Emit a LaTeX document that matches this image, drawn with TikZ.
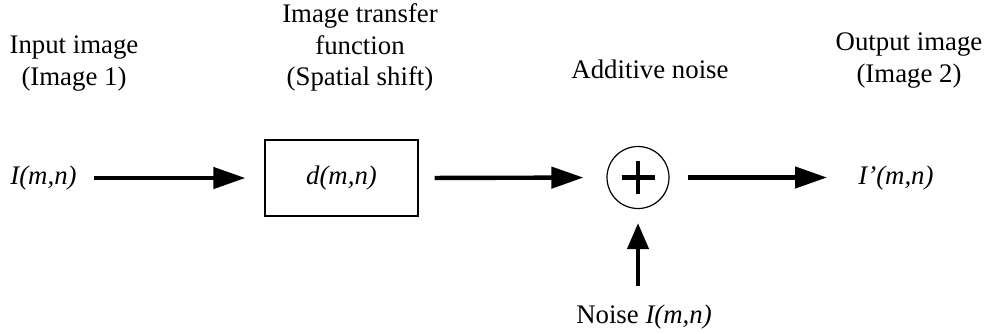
\documentclass[tikz,border=0pt]{standalone}
\usepackage{fontspec}
\setmainfont{Liberation Serif}
\usetikzlibrary{arrows.meta}
\begin{document}
\begin{tikzpicture}[x=0.5pt,y=-0.5pt,
  lbl/.style={font=\fontsize{13.4}{15.8}\selectfont, align=center, inner sep=0pt},
  sig/.style={font=\fontsize{13.4}{15.8}\selectfont\itshape, inner sep=0pt},
  flow/.style={line width=2.2pt, -{Triangle[length=16pt,width=10.5pt]}},
  blockbox/.style={draw, line width=0.6pt, minimum width=76.5pt, minimum height=38pt, inner sep=0pt},
  sumnode/.style={draw, circle, line width=0.6pt, minimum size=31pt, inner sep=0pt},
]
\useasboundingbox (0,0) rectangle (989,333);

% stage captions
\node[lbl, anchor=north] (capin)  at (74,35.5)  {Input image\\(Image 1)};
\node[lbl, anchor=north] (captf)  at (360,3.5)  {Image transfer\\function\\(Spatial shift)};
\node[lbl, anchor=base]  (capadd) at (650,78)   {Additive noise};
\node[lbl, anchor=north] (capout) at (909,32.5) {Output image\\(Image 2)};

% signal chain
\node[sig, anchor=west] (in)  at (10,178)  {I(m,n)};
\node[blockbox] (tf) at (341.5,178) {\fontsize{13.4}{15.8}\selectfont\itshape d(m,n)};
\node[sumnode] (sum) at (638,177.5) {};
\node[sig, anchor=west] (out) at (858,178) {I’(m,n)};
\node[lbl, anchor=base] (noise) at (644,323) {Noise \textit{I(m,n)}};

% plus sign inside the summing junction
\draw[line width=2.3pt] ([xshift=-8.25pt]sum.center) -- ([xshift=8.25pt]sum.center);
\draw[line width=2.3pt] ([yshift=8.25pt]sum.center) -- ([yshift=-8.25pt]sum.center);

% connectors
\draw[flow, shorten <=8.5pt, shorten >=9.5pt] (in.east) -- (tf.west);
\draw[flow, shorten <=8pt, shorten >=11.5pt] (tf.east) -- (sum.west);
\draw[flow, shorten <=9pt, shorten >=15.5pt] (sum.east) -- (out.west |- sum.east);
\draw[flow, -{Triangle[length=13pt,width=10.5pt]}, shorten <=9pt, shorten >=7pt] (noise.north -| sum.south) -- (sum.south);
\end{tikzpicture}
\end{document}
